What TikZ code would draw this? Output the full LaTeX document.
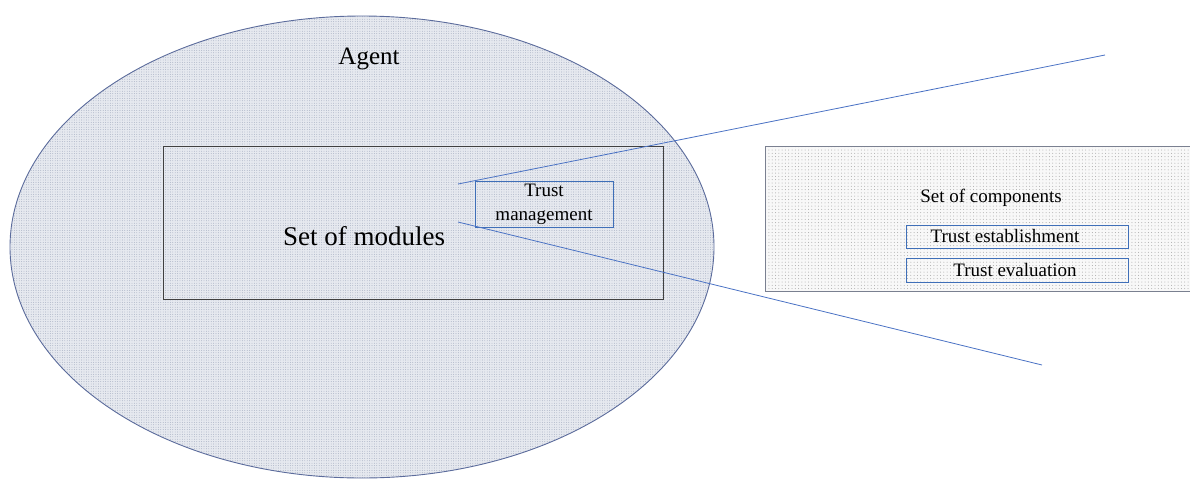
\documentclass[tikz,border=0pt]{standalone}
\usepackage{fontspec}
\setmainfont{Liberation Serif}
\usetikzlibrary{patterns.meta}
\definecolor{ellline}{HTML}{5C6C9C}
\definecolor{ellfill}{HTML}{E6E9EF}
\definecolor{elldot}{HTML}{98A2B8}
\definecolor{zoomline}{HTML}{4A72C4}
\definecolor{boxline}{HTML}{3F6FB8}
\definecolor{modline}{HTML}{404040}
\definecolor{compline}{HTML}{7A8090}
\definecolor{compfill}{HTML}{F8F8F8}
\definecolor{compdot}{HTML}{A8A8A8}
\tikzset{
  ellipsestyle/.style={draw=ellline, line width=0.9pt},
  ellipsedots/.style={pattern={Dots[distance=2.4pt, radius=0.42pt]}, pattern color=elldot},
  modstyle/.style={draw=modline, line width=0.8pt},
  compstyle/.style={draw=compline, line width=0.9pt},
  subbox/.style={draw=boxline, line width=1pt},
  zoomstyle/.style={draw=zoomline, line width=0.8pt},
}
\begin{document}
\begin{tikzpicture}[x=1pt,y=-1pt]
\useasboundingbox (0,0) rectangle (1190,480);
% agent ellipse
\fill[ellfill] (362,247) ellipse [x radius=352, y radius=231];
\begin{scope}
\fill[ellipsedots] (362,247) ellipse [x radius=352, y radius=231];
\end{scope}
\draw[ellipsestyle] (362,247) ellipse [x radius=352, y radius=231];
\node[anchor=base, font=\fontsize{25}{30}\selectfont] (agent) at (369,64) {Agent};
% set of modules
\node[modstyle, minimum width=500pt, minimum height=153pt, inner sep=0pt] (mods) at (413,222.5) {};
\node[anchor=base, font=\fontsize{27}{32}\selectfont] (modtxt) at (364,245) {Set of modules};
% trust management box background
\fill[ellfill] (475,181) rectangle (613,227);
\begin{scope}
\fill[ellipsedots] (475,181) rectangle (613,227);
\end{scope}
% set of components
\fill[compfill] (765,146) rectangle (1196,291);
\begin{scope}
\fill[pattern={Dots[distance=3.3pt, radius=0.5pt]}, pattern color=compdot] (765,146) rectangle (1196,291);
\end{scope}
\draw[compstyle] (1196,146) -- (765,146) -- (765,291) -- (1196,291);
\node[anchor=base, font=\fontsize{19}{24}\selectfont] (comps) at (991,202) {Set of components};
\node[subbox, minimum width=222pt, minimum height=23pt, inner sep=0pt] (te) at (1017,236.5) {};
\node[anchor=base, font=\fontsize{19}{24}\selectfont] (tetxt) at (1005,242) {Trust establishment};
\node[subbox, minimum width=222pt, minimum height=24pt, inner sep=0pt] (tv) at (1017,270) {};
\node[anchor=base, font=\fontsize{19}{24}\selectfont] (tvtxt) at (1015,276) {Trust evaluation};
% trust management box
\node[subbox, minimum width=138pt, minimum height=46pt, inner sep=0pt] (tm) at (544,204) {};
\node[anchor=base, font=\fontsize{19}{24}\selectfont] (tm1) at (544,196) {Trust};
\node[anchor=base, font=\fontsize{19}{24}\selectfont] (tm2) at (544,220) {management};
% zoom lines
\coordinate (zs1) at (458,184);
\coordinate (zs2) at (458,222);
\coordinate (ze1) at (1105,55);
\coordinate (ze2) at (1042,365);
\draw[zoomstyle] (zs1) -- (ze1);
\draw[zoomstyle] (zs2) -- (ze2);
\end{tikzpicture}
\end{document}
